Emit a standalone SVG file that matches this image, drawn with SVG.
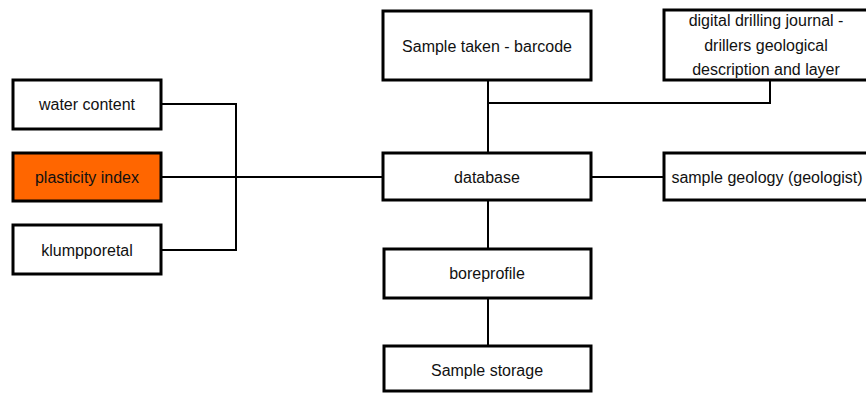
<svg xmlns="http://www.w3.org/2000/svg" width="866" height="393" viewBox="0 0 866 393">
<style>
.box{fill:#fff;stroke:#000;stroke-width:3}
.hl{fill:#ff6600}
.t{font-family:"Liberation Sans",Arial,sans-serif;font-size:16px;fill:#111;text-anchor:middle}
.c{fill:none;stroke:#000;stroke-width:2}
</style>
<rect width="866" height="393" fill="#fff"/>
<g id="connectors">
<polyline class="c" points="161,104 236,104 236,250 161,250"/>
<line class="c" x1="161" y1="177" x2="383" y2="177"/>
<line class="c" x1="488" y1="80" x2="488" y2="153"/>
<polyline class="c" points="488,103 770,103 770,80"/>
<line class="c" x1="591" y1="177" x2="664" y2="177"/>
<line class="c" x1="488" y1="200" x2="488" y2="249"/>
<line class="c" x1="488" y1="298" x2="488" y2="346"/>
</g>
<g id="water-content"><rect class="box" x="13" y="80" width="148" height="49"/><text class="t" x="87" y="110">water content</text></g>
<g id="plasticity-index"><rect class="box hl" x="13" y="153" width="148" height="48"/><text class="t" x="87" y="183">plasticity index</text></g>
<g id="klumpporetal"><rect class="box" x="13" y="225" width="148" height="49"/><text class="t" x="87" y="256">klumpporetal</text></g>
<g id="sample-taken"><rect class="box" x="383" y="11" width="208" height="69"/><text class="t" x="487" y="52">Sample taken - barcode</text></g>
<g id="digital-journal"><rect class="box" x="664" y="10" width="204" height="70"/><text class="t" x="766" y="26">digital drilling journal -</text><text class="t" x="766" y="51">drillers geological</text><text class="t" x="766" y="75">description and layer</text></g>
<g id="database"><rect class="box" x="383" y="153" width="208" height="47"/><text class="t" x="487" y="183">database</text></g>
<g id="sample-geology"><rect class="box" x="664" y="153" width="204" height="47"/><text class="t" x="767" y="183">sample geology (geologist)</text></g>
<g id="boreprofile"><rect class="box" x="384" y="249" width="207" height="49"/><text class="t" x="487" y="279">boreprofile</text></g>
<g id="sample-storage"><rect class="box" x="384" y="346" width="207" height="45"/><text class="t" x="487" y="376">Sample storage</text></g>
</svg>
